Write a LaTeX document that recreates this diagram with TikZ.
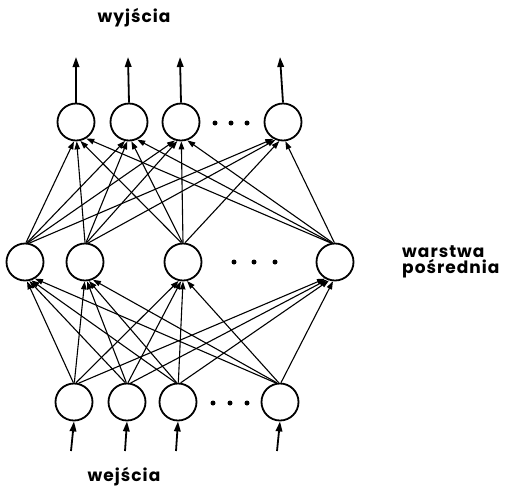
\documentclass[tikz,border=0pt]{standalone}
\usepackage{fontspec}
\setmainfont{Poppins}[LetterSpace=6]
\usetikzlibrary{arrows.meta,calc}
\begin{document}
\begin{tikzpicture}[x=1pt,y=-1pt,
  neuron/.style={circle,draw,line width=1.8pt,minimum size=37pt,inner sep=0pt},
  arr/.style={line width=1.1pt,-{Triangle[length=8pt,width=5.5pt]}},
  io/.style={line width=1.8pt,-{Triangle[length=10pt,width=6.5pt]}},
  dot/.style={circle,fill,inner sep=0pt,minimum size=5pt},
  lbl/.style={font=\fontsize{17}{19}\selectfont\bfseries,inner sep=0pt}]
\useasboundingbox (0,0) rectangle (506,499);
% output layer
\node[neuron] (o1) at (76,122) {};
\node[neuron] (o2) at (129,122) {};
\node[neuron] (o3) at (181,122) {};
\node[neuron] (o4) at (283,122) {};
% hidden layer
\node[neuron] (h1) at (25,262) {};
\node[neuron] (h2) at (85,262) {};
\node[neuron] (h3) at (183,262) {};
\node[neuron] (h4) at (335,262) {};
% input layer
\node[neuron] (i1) at (74,402) {};
\node[neuron] (i2) at (127,402) {};
\node[neuron] (i3) at (178,402) {};
\node[neuron] (i4) at (280,402) {};
% dots
\node[dot] (d1) at (215,123) {};
\node[dot] (d2) at (231,123) {};
\node[dot] (d3) at (247,123) {};
\node[dot] (d4) at (234,262) {};
\node[dot] (d5) at (254,262) {};
\node[dot] (d6) at (275,262) {};
\node[dot] (d7) at (213,403) {};
\node[dot] (d8) at (230,403) {};
\node[dot] (d9) at (247,403) {};
% connections
\foreach \s in {1,...,4}{
  \foreach \t in {1,...,4}{
    \draw[arr] let \p1=(i\s.center), \p2=(h\t.center),
      \n1={90-0.05*(\x2-\x1)}, \n2={-90+0.12*(\x1-\x2)} in
      (i\s.\n1) -- (h\t.\n2);
    \draw[arr] let \p1=(h\s.center), \p2=(o\t.center),
      \n1={90-0.05*(\x2-\x1)}, \n2={-90+0.12*(\x1-\x2)} in
      (h\s.\n1) -- (o\t.\n2);
  }
}
% outputs
\coordinate (y1) at (76,57);
\coordinate (y2) at (128,57);
\coordinate (y3) at (180,57);
\coordinate (y4) at (280,57);
\foreach \k in {1,...,4}{\draw[io] (o\k.north) -- (y\k);}
% inputs
\coordinate (x1) at (71,451);
\coordinate (x2) at (125,451);
\coordinate (x3) at (176,451);
\coordinate (x4) at (277,451);
\foreach \k in {1,...,4}{\draw[io] (x\k) -- (i\k.south);}
% labels
\node[lbl] (lout) at (134,18) {wyjścia};
\node[lbl] (lin) at (124,477) {wejścia};
\node[lbl,anchor=west,align=left] (lhid) at (402,262) {warstwa\\[-3pt]pośrednia};
\end{tikzpicture}
\end{document}
